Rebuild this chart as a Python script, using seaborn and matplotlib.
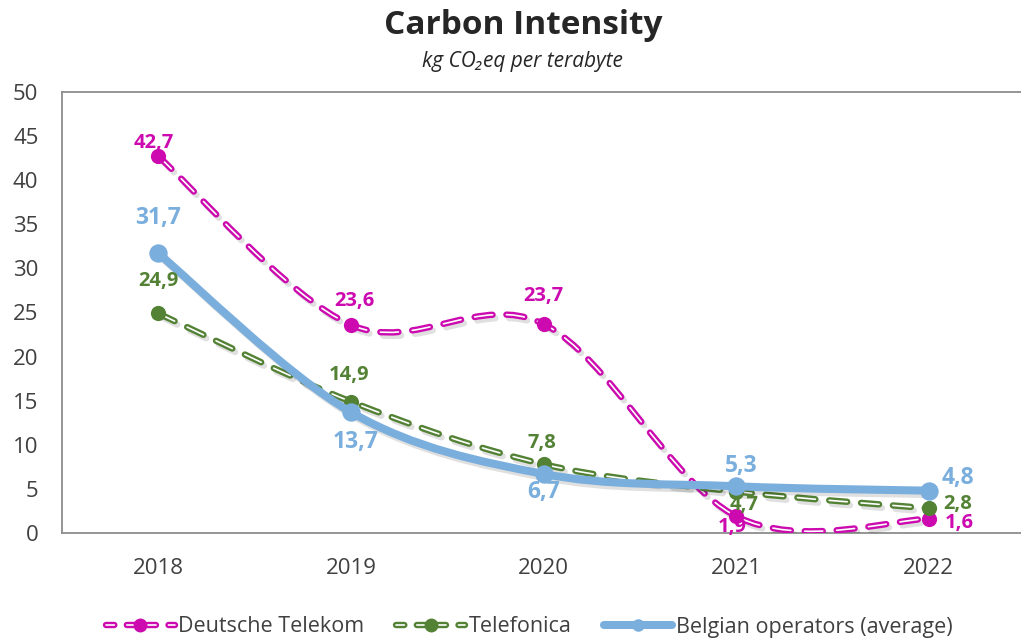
import matplotlib
matplotlib.use("Agg")
import numpy as np
import pandas as pd
import matplotlib.pyplot as plt
import matplotlib.patheffects as pe
from matplotlib.path import Path
from matplotlib.patches import PathPatch
from matplotlib.lines import Line2D
import seaborn as sns

# data
years = ["2018", "2019", "2020", "2021", "2022"]
deutsche_telekom = [42.7, 23.6, 23.7, 1.9, 1.6]
telefonica = [24.9, 14.9, 7.8, 4.7, 2.8]
belgian_avg = [31.7, 13.7, 6.7, 5.3, 4.8]
series_names = ["Deutsche Telekom", "Telefonica", "Belgian operators (average)"]

sns.set_theme(style="white")
plt.rcParams["font.family"] = ["Open Sans", "Noto Sans", "DejaVu Sans"]
plt.rcParams["lines.scale_dashes"] = False

colors = {"Deutsche Telekom": "#CC0AAF", "Telefonica": "#548235",
          "Belgian operators (average)": "#7AAEDD"}

df = pd.DataFrame({
    "x": list(range(len(years))) * 3,
    "value": deutsche_telekom + telefonica + belgian_avg,
    "series": [s for s in series_names for _ in years],
})

# label offsets in pixels (dx, dy)
offsets = {
    "Deutsche Telekom": [(-5, 13), (4, 24), (0, 28), (-4, -11), (31, -4)],
    "Telefonica": [(0, 32), (-2, 27), (-2, 21), (8, -13), (29, 4)],
    "Belgian operators (average)": [(0, 35), (5, -30), (0, -18), (5, 20), (29, 13)],
}
label_size = {"Deutsche Telekom": 14.5, "Telefonica": 14.5,
              "Belgian operators (average)": 16.5}


def smooth_path(xs, ys):
    # excel-like smoothed line as bezier segments through the points
    pts = np.column_stack([xs, ys]).astype(float)
    n = len(pts)
    verts = [pts[0]]
    codes = [Path.MOVETO]
    for i in range(n - 1):
        p0 = pts[max(i - 1, 0)]
        p1 = pts[i]
        p2 = pts[i + 1]
        p3 = pts[min(i + 2, n - 1)]
        verts += [p1 + (p2 - p0) / 6, p2 - (p3 - p1) / 6, p2]
        codes += [Path.CURVE4] * 3
    return Path(verts, codes)


fig = plt.figure(figsize=(10.21, 6.41), dpi=100)
ax = fig.add_axes([62 / 1021, 108 / 641, 963 / 1021, 441 / 641])

shadow = [pe.SimpleLineShadow(offset=(2, -2.5), shadow_color="black", alpha=0.12), pe.Normal()]
dash = (0, (13, 10))

for k, name in enumerate(series_names):
    sub = df[df.series == name]
    path = smooth_path(sub.x.values, sub.value.values)
    c = colors[name]
    if name == "Belgian operators (average)":
        ax.add_patch(PathPatch(path, fill=False, edgecolor=c, lw=5.8, capstyle="round",
                               joinstyle="round", zorder=3 + k, path_effects=shadow))
        ms = 175
    else:
        ax.add_patch(PathPatch(path, fill=False, edgecolor=c, lw=4.6, linestyle=dash,
                               capstyle="round", zorder=3 + k, path_effects=shadow))
        ax.add_patch(PathPatch(path, fill=False, edgecolor="white", lw=1.2, linestyle=dash,
                               capstyle="round", zorder=3 + k))
        ms = 120
    sns.scatterplot(data=sub, x="x", y="value", color=c, s=ms, linewidth=0,
                    ax=ax, legend=False, zorder=3.5 + k)
    for (xv, yv), (dx, dy) in zip(zip(sub.x.values, sub.value.values), offsets[name]):
        ax.annotate(f"{yv:.1f}".replace(".", ","), (xv, yv), xytext=(dx, dy),
                    textcoords="offset pixels", ha="center", va="center",
                    color=c, fontsize=label_size[name], fontweight="bold", zorder=10)

ax.set_xlim(-0.5, 4.5)
ax.set_ylim(0, 50)
ax.set_xticks(range(len(years)))
ax.set_xticklabels(years)
ax.set_yticks(range(0, 51, 5))
ax.set_xlabel("")
ax.set_ylabel("")
ax.tick_params(axis="y", direction="in", length=7, width=1, color="#8c8c8c",
               labelsize=16, labelcolor="#404040", pad=17)
ax.tick_params(axis="x", length=0, labelsize=16, labelcolor="#404040", pad=18)
for s in ["left", "top", "bottom"]:
    ax.spines[s].set_color("#8c8c8c")
    ax.spines[s].set_linewidth(1.3)
ax.spines["right"].set_visible(False)

fig.text(523 / 1021, 1 - 25 / 641, "Carbon Intensity", ha="center", va="center",
         fontsize=24, fontweight="bold", color="#262626")
fig.text(522 / 1021, 1 - 62 / 641, "kg CO\u2082eq per terabyte", ha="center", va="center",
         fontsize=15, fontstyle="italic", color="#262626")

handles = []
for name in series_names:
    c = colors[name]
    if name == "Belgian operators (average)":
        handles.append(Line2D([], [], color=c, lw=5.8, marker="o", markersize=8,
                              solid_capstyle="round"))
    else:
        handles.append((Line2D([], [], color=c, lw=4.6, linestyle=(0, (6, 9)),
                               dash_capstyle="round"),
                        Line2D([], [], color="white", lw=1.2, linestyle=(0, (6, 9)),
                               dash_capstyle="round"),
                        Line2D([], [], color=c, lw=0, marker="o", markersize=9)))
fig.legend(handles, series_names, loc="center", bbox_to_anchor=(529 / 1021, 1 - 627 / 641),
           ncol=3, frameon=False, fontsize=15.5, handlelength=3.2, handletextpad=0.15,
           columnspacing=1.5, labelcolor="#404040")

fig.savefig("out.png", dpi=100)
